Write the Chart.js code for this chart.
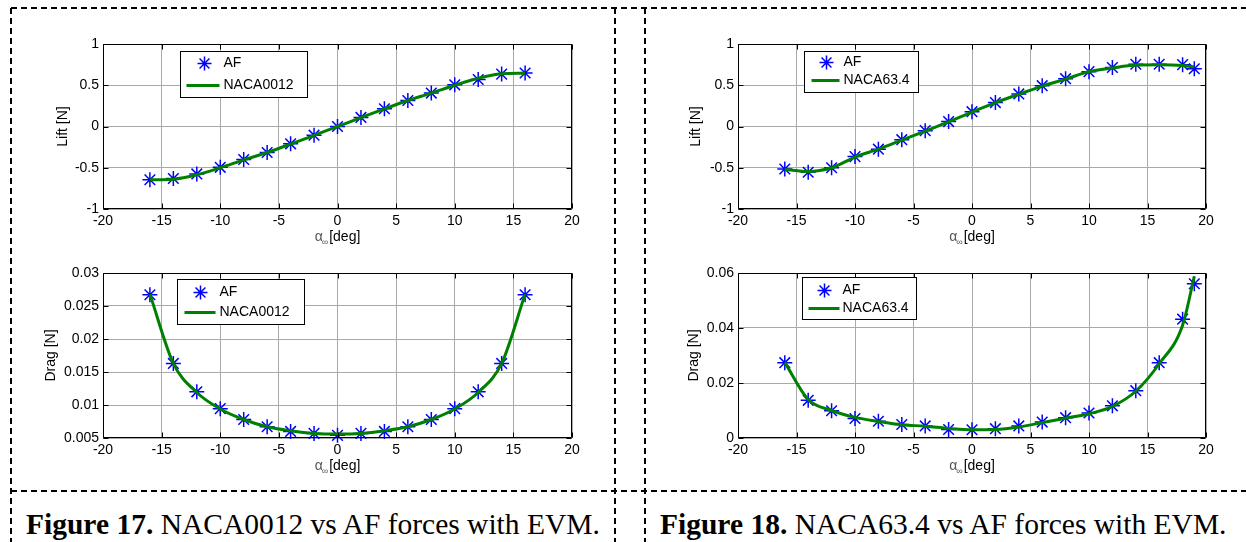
<!DOCTYPE html>
<html>
<head>
<meta charset="utf-8">
<title>NACA0012 / NACA63.4 vs AF forces</title>
<script src="https://cdn.jsdelivr.net/npm/chart.js@4.4.1/dist/chart.umd.min.js"></script>
<style>
  html, body { margin: 0; padding: 0; background: #fff; }
  #page { position: relative; width: 1246px; height: 542px; overflow: hidden; }
  #page canvas { position: absolute; }
  #frame { position: absolute; left: 0; top: 0; }
  .caption {
    position: absolute;
    font-family: "Liberation Serif", "Times New Roman", serif;
    font-size: 29.5px;
    line-height: 1;
    white-space: nowrap;
    color: #000;
  }
</style>
</head>
<body>
<div id="page">
  <svg id="frame" width="1246" height="542">
    <g stroke="#000" stroke-width="2" stroke-dasharray="6 4" fill="none">
      <line x1="11" y1="8" x2="1246" y2="8"/>
      <line x1="11" y1="8" x2="11" y2="542"/>
      <line x1="615" y1="8" x2="615" y2="542"/>
      <line x1="645" y1="8" x2="645" y2="542"/>
      <line x1="11" y1="491" x2="1246" y2="491"/>
    </g>
  </svg>
  <canvas id="liftLeft" width="580" height="240" style="left:20px;top:14px"></canvas>
  <canvas id="dragLeft" width="580" height="225" style="left:20px;top:258px"></canvas>
  <canvas id="liftRight" width="580" height="240" style="left:655px;top:14px"></canvas>
  <canvas id="dragRight" width="580" height="225" style="left:655px;top:258px"></canvas>
  <div class="caption" style="left:26px;top:510px"><b>Figure 17.</b> NACA0012 vs AF forces with EVM.</div>
  <div class="caption" style="left:660px;top:510px"><b>Figure 18.</b> NACA63.4 vs AF forces with EVM.</div>
</div>
<script>
// angle of attack (deg)
const alpha0012 = [-16, -14, -12, -10, -8, -6, -4, -2, 0, 2, 4, 6, 8, 10, 12, 14, 16];
const alpha634 = [-16, -14, -12, -10, -8, -6, -4, -2, 0, 2, 4, 6, 8, 10, 12, 14, 16, 18, 19];

// NACA0012 (Figure 17)
const liftAF0012 = [-0.645, -0.63, -0.575, -0.495, -0.40, -0.315, -0.21, -0.105, 0, 0.11, 0.215, 0.315, 0.405, 0.505, 0.57, 0.635, 0.648];
const liftNACA0012 = [-0.646, -0.638, -0.585, -0.50, -0.405, -0.315, -0.213, -0.107, 0, 0.107, 0.213, 0.315, 0.405, 0.50, 0.585, 0.638, 0.646];
const dragAF0012 = [0.0267, 0.0163, 0.0120, 0.00945, 0.0078, 0.0067, 0.0060, 0.0057, 0.0054, 0.0057, 0.0060, 0.0067, 0.0078, 0.00945, 0.0120, 0.0163, 0.0267];
const dragNACA0012 = [0.0268, 0.0163, 0.0119, 0.0094, 0.0078, 0.0067, 0.0061, 0.0057, 0.0056, 0.0057, 0.0061, 0.0067, 0.0078, 0.0094, 0.0119, 0.0163, 0.0268];

// NACA63.4 (Figure 18)
const liftAF634 = [-0.515, -0.555, -0.50, -0.365, -0.275, -0.16, -0.05, 0.06, 0.18, 0.29, 0.395, 0.495, 0.58, 0.665, 0.715, 0.755, 0.755, 0.75, 0.70];
const liftNACA634 = [-0.52, -0.545, -0.50, -0.37, -0.275, -0.165, -0.055, 0.055, 0.175, 0.29, 0.39, 0.49, 0.575, 0.665, 0.71, 0.745, 0.75, 0.74, 0.72];
const dragAF634 = [0.0274, 0.0137, 0.0099, 0.0071, 0.0061, 0.0049, 0.0044, 0.0031, 0.0030, 0.0034, 0.0044, 0.0058, 0.0074, 0.0091, 0.0117, 0.0172, 0.0274, 0.0432, 0.0561];
const dragNACA634 = [0.0275, 0.0140, 0.0100, 0.0075, 0.0060, 0.0048, 0.0043, 0.0035, 0.0030, 0.0031, 0.0040, 0.0056, 0.0072, 0.0088, 0.0115, 0.0170, 0.0270, 0.0410, 0.0588];

// tick labels
const xTicks = [-20, -15, -10, -5, 0, 5, 10, 15, 20];
const liftTicks = [-1, -0.5, 0, 0.5, 1];
const dragTicks0012 = [0.005, 0.01, 0.015, 0.02, 0.025, 0.03];
const dragTicks634 = [0, 0.02, 0.04, 0.06];

const FONT = '"Liberation Sans", Arial, sans-serif';
Chart.defaults.font.family = FONT;
Chart.defaults.color = '#000';

function toPoints(xs, ys) {
  return xs.map((x, i) => ({ x: x, y: ys[i] }));
}

function drawStar(ctx, x, y, r) {
  for (let k = 0; k < 4; k++) {
    const a = k * Math.PI / 4;
    ctx.moveTo(x - Math.cos(a) * r, y - Math.sin(a) * r);
    ctx.lineTo(x + Math.cos(a) * r, y + Math.sin(a) * r);
  }
}

// box, inward ticks, legend and x title, drawn the matlab way
const matlabAxes = {
  id: 'matlabAxes',
  afterDatasetsDraw(chart, args, opts) {
    const { ctx, chartArea: a, scales } = chart;
    const L = Math.round(a.left) + 0.5, R = Math.round(a.right) - 0.5;
    const T = Math.round(a.top) + 0.5, B = Math.round(a.bottom) - 0.5;
    ctx.save();
    ctx.strokeStyle = '#000';
    ctx.lineWidth = 1;
    ctx.beginPath();
    ctx.rect(L, T, R - L, B - T);
    scales.x.ticks.forEach(t => {
      const px = Math.round(scales.x.getPixelForValue(t.value)) + 0.5;
      ctx.moveTo(px, T); ctx.lineTo(px, T + 5);
      ctx.moveTo(px, B); ctx.lineTo(px, B - 5);
    });
    scales.y.ticks.forEach(t => {
      const py = Math.round(scales.y.getPixelForValue(t.value)) + 0.5;
      ctx.moveTo(L, py); ctx.lineTo(L + 5, py);
      ctx.moveTo(R, py); ctx.lineTo(R - 5, py);
    });
    ctx.stroke();

    // legend
    const lg = opts.legend;
    const bx = Math.round(a.left + lg.dx) + 0.5, by = Math.round(a.top + lg.dy) + 0.5;
    ctx.fillStyle = '#fff';
    ctx.fillRect(bx, by, lg.w, lg.h);
    ctx.strokeRect(bx, by, lg.w, lg.h);
    ctx.beginPath();
    ctx.strokeStyle = '#0000ff';
    ctx.lineWidth = 1.5;
    drawStar(ctx, bx + lg.mx, by + lg.rows[0], 7);
    ctx.stroke();
    ctx.beginPath();
    ctx.strokeStyle = '#008000';
    ctx.lineWidth = 3;
    ctx.moveTo(bx + lg.lx0, by + lg.rows[1]);
    ctx.lineTo(bx + lg.lx1, by + lg.rows[1]);
    ctx.stroke();
    ctx.fillStyle = '#000';
    ctx.font = '14px ' + FONT;
    ctx.textAlign = 'left';
    ctx.textBaseline = 'middle';
    ctx.fillText('AF', bx + lg.tx, by + lg.rows[0]);
    ctx.fillText(chart.data.datasets[1].label, bx + lg.tx, by + lg.rows[1]);

    // x title with subscript
    const cx = (a.left + a.right) / 2, cy = a.bottom + 28;
    ctx.font = '14px ' + FONT;
    const w1 = ctx.measureText('α').width;
    const w3 = ctx.measureText('[deg]').width;
    ctx.font = '9px ' + FONT;
    const w2 = ctx.measureText('∞').width;
    let x = cx - (w1 + w2 + w3) / 2;
    ctx.fillStyle = '#555';
    ctx.font = '14px ' + FONT;
    ctx.fillText('α', x, cy);
    x += w1;
    ctx.font = '9px ' + FONT;
    ctx.fillText('∞', x - 1, cy + 6);
    x += w2;
    ctx.fillStyle = '#000';
    ctx.font = '14px ' + FONT;
    ctx.fillText('[deg]', x, cy);
    ctx.restore();
  }
};

function makeChart(id, cfg) {
  return new Chart(document.getElementById(id), {
    type: 'line',
    data: {
      datasets: [
        {
          label: 'AF',
          data: toPoints(cfg.xs, cfg.af),
          showLine: false,
          pointStyle: 'star',
          pointRadius: 7.5,
          pointBorderColor: '#0000ff',
          pointBackgroundColor: '#0000ff',
          pointBorderWidth: 1.5,
          borderColor: '#0000ff',
          clip: false,
          order: 1
        },
        {
          label: cfg.name,
          data: toPoints(cfg.xs, cfg.naca),
          borderColor: '#008000',
          borderWidth: 3,
          pointRadius: 0,
          cubicInterpolationMode: 'monotone',
          order: 0
        }
      ]
    },
    options: {
      responsive: false,
      animation: false,
      devicePixelRatio: 1,
      events: [],
      layout: { padding: cfg.pad },
      plugins: {
        legend: { display: false },
        tooltip: { enabled: false },
        matlabAxes: { legend: cfg.legend }
      },
      scales: {
        x: {
          type: 'linear',
          min: -20,
          max: 20,
          afterBuildTicks: s => { s.ticks = xTicks.map(v => ({ value: v })); },
          afterFit: s => { s.height = 45; },
          border: { display: false },
          grid: { color: '#a9a9a9', lineWidth: 1, drawTicks: false },
          ticks: { padding: 4, font: { size: 14 }, maxRotation: 0, callback: v => String(v) }
        },
        y: {
          min: cfg.yTicks[0],
          max: cfg.yTicks[cfg.yTicks.length - 1],
          afterBuildTicks: s => { s.ticks = cfg.yTicks.map(v => ({ value: v })); },
          afterFit: s => { s.width = 83; },
          border: { display: false },
          grid: { color: '#a9a9a9', lineWidth: 1, drawTicks: false },
          ticks: { padding: 4, font: { size: 14 }, callback: v => String(v) },
          title: { display: true, text: cfg.yTitle, font: { size: 14 }, padding: { top: cfg.titlePad, bottom: 0 } }
        }
      }
    },
    plugins: [matlabAxes]
  });
}

makeChart('liftLeft', {
  xs: alpha0012, af: liftAF0012, naca: liftNACA0012, name: 'NACA0012',
  yTicks: liftTicks, yTitle: 'Lift [N]', titlePad: 35,
  pad: { left: 0, right: 28, top: 30, bottom: 0 },
  legend: { dx: 77, dy: 7, w: 127, h: 46, rows: [12, 34], mx: 24, lx0: 6, lx1: 39, tx: 43 }
});
makeChart('dragLeft', {
  xs: alpha0012, af: dragAF0012, naca: dragNACA0012, name: 'NACA0012',
  yTicks: dragTicks0012, yTitle: 'Drag [N]', titlePad: 23,
  pad: { left: 0, right: 28, top: 15, bottom: 0 },
  legend: { dx: 74, dy: 6, w: 127, h: 45, rows: [13, 33], mx: 23, lx0: 7, lx1: 38, tx: 42 }
});
makeChart('liftRight', {
  xs: alpha634, af: liftAF634, naca: liftNACA634, name: 'NACA63.4',
  yTicks: liftTicks, yTitle: 'Lift [N]', titlePad: 33,
  pad: { left: 0, right: 29, top: 30, bottom: 0 },
  legend: { dx: 66, dy: 7, w: 114, h: 41, rows: [11, 29], mx: 22, lx0: 7, lx1: 35, tx: 39 }
});
makeChart('dragRight', {
  xs: alpha634, af: dragAF634, naca: dragNACA634, name: 'NACA63.4',
  yTicks: dragTicks634, yTitle: 'Drag [N]', titlePad: 31,
  pad: { left: 0, right: 29, top: 15, bottom: 0 },
  legend: { dx: 64, dy: 4, w: 114, h: 42, rows: [13, 31], mx: 22, lx0: 6, lx1: 37, tx: 40 }
});
</script>
</body>
</html>
